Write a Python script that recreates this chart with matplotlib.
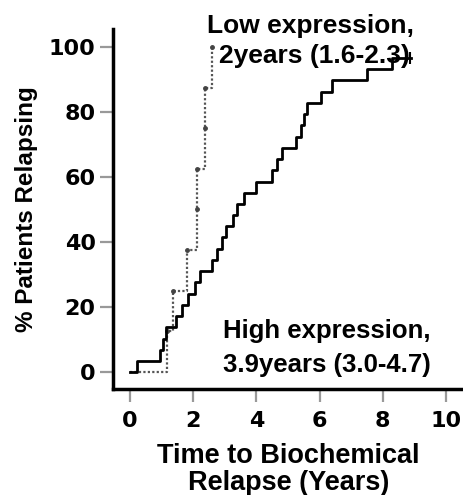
import matplotlib
matplotlib.use("Agg")
import matplotlib.pyplot as plt

plt.rcParams['font.family'] = ['Liberation Sans', 'DejaVu Sans']
plt.rcParams['font.weight'] = 'bold'

# High expression: event times and cumulative % relapsing
high_times = [0.0, 0.22, 0.95, 1.05, 1.15, 1.45, 1.65, 1.85, 2.05, 2.2, 2.6, 2.75, 2.9,
              3.05, 3.25, 3.4, 3.6, 4.0, 4.5, 4.65, 4.8, 5.25, 5.4, 5.5, 5.6, 6.05,
              6.4, 7.5, 8.3, 8.9]
high_pct = [0.0, 3.4, 6.9, 10.3, 13.8, 17.2, 20.7, 24.1, 27.6, 31.0, 34.5, 37.9, 41.4,
            44.8, 48.3, 51.7, 55.2, 58.6, 62.1, 65.5, 69.0, 72.4, 75.9, 79.3, 82.8, 86.2,
            89.7, 93.1, 96.6, 96.6]
high_censor_t = [8.85]
high_censor_p = [96.6]

# Low expression
low_times = [0.0, 1.16, 1.37, 1.79, 2.11, 2.37, 2.58]
low_pct = [0.0, 12.5, 25.0, 37.5, 62.5, 87.5, 100.0]
low_mark_t = [1.16, 1.37, 1.79, 2.11, 2.11, 2.37, 2.37, 2.58]
low_mark_p = [12.5, 25.0, 37.5, 50.0, 62.5, 75.0, 87.5, 100.0]

x_ticks = [0, 2, 4, 6, 8, 10]
y_ticks = [0, 20, 40, 60, 80, 100]

W, H = 464, 495
fig = plt.figure(figsize=(W / 100, H / 100), dpi=100)
ax = fig.add_axes([113 / W, 1 - 389 / H, (463 - 113) / W, (389 - 29) / H])

def fx(px):
    return px / W

def fy(py):
    return 1 - py / H

ax.step(high_times, high_pct, where='post', color='black', lw=2.0, zorder=3)
ax.plot(high_censor_t, high_censor_p, marker='|', color='black', ms=8, mew=1.5,
        ls='none', zorder=3)

ax.step(low_times, low_pct, where='post', color='#555555', lw=1.6, ls=(0, (1, 1)), zorder=2)
ax.plot(low_mark_t, low_mark_p, marker='o', color='#444444', ms=2.5, ls='none', zorder=2)

ax.set_xlim(-0.54, 10.54)
ax.set_ylim(-5.2, 105.5)
ax.set_xticks(x_ticks)
ax.set_yticks(y_ticks)
ax.tick_params(axis='both', direction='out', length=9.5, width=1.6, color='#999999',
               labelsize=16)
ax.tick_params(axis='x', pad=6)
ax.tick_params(axis='y', pad=3)
for lab in ax.get_xticklabels() + ax.get_yticklabels():
    lab.set_fontweight('bold')
    lab.set_family('DejaVu Sans')

for s in ['top', 'right']:
    ax.spines[s].set_visible(False)
for s in ['left', 'bottom']:
    ax.spines[s].set_linewidth(2.5)

# axis titles
fig.text(fx(27), fy(209), '% Patients Relapsing', rotation=90, ha='center', va='center',
         fontsize=17.5, fontweight='bold')
fig.text(fx(288), fy(463), 'Time to Biochemical', ha='center', va='baseline',
         fontsize=19.5, fontweight='bold')
fig.text(fx(289), fy(490), 'Relapse (Years)', ha='center', va='baseline',
         fontsize=19.5, fontweight='bold')

# annotations
fig.text(fx(310), fy(33), 'Low expression,', ha='center', va='baseline',
         fontsize=19, fontweight='bold')
fig.text(fx(314), fy(63), '2years (1.6-2.3)', ha='center', va='baseline',
         fontsize=19, fontweight='bold')
fig.text(fx(223), fy(338), 'High expression,', ha='left', va='baseline',
         fontsize=18.5, fontweight='bold')
fig.text(fx(223), fy(372), '3.9years (3.0-4.7)', ha='left', va='baseline',
         fontsize=18.5, fontweight='bold')

fig.savefig('out.png', dpi=100)
